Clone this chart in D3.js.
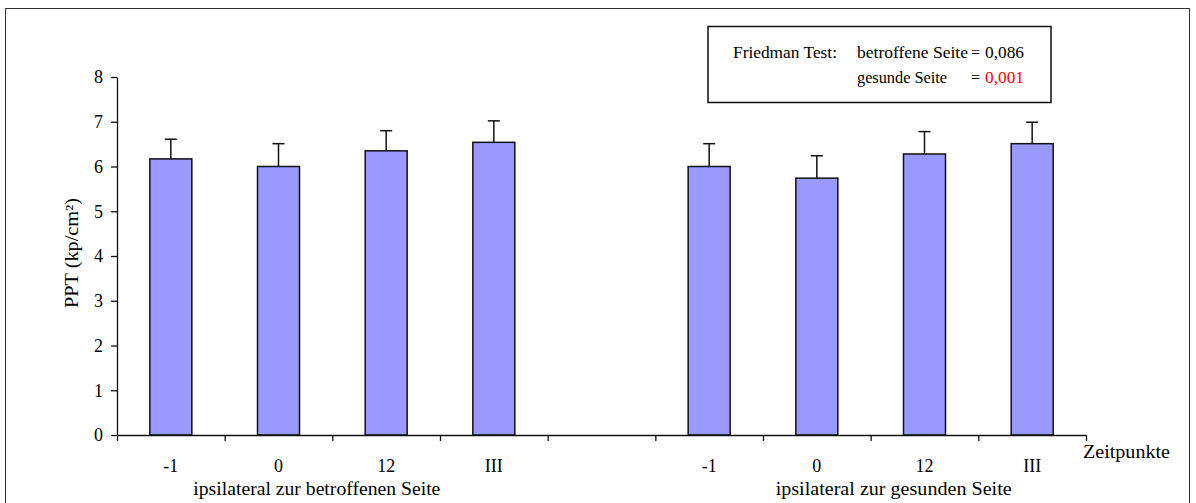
<!DOCTYPE html>
<html>
<head>
<meta charset="utf-8">
<script src="https://cdn.jsdelivr.net/npm/d3@7"></script>
<style>
  body { margin: 0; background: #fff; }
  svg { display: block; }
  text { font-family: "Liberation Serif", "Times New Roman", serif; fill: #000; }
</style>
</head>
<body>
<svg id="chart" width="1196" height="503"></svg>
<script>
// Pressure pain threshold per time point, two sides
const timepoints = ["-1", "0", "12", "III"];
const affectedMean = [6.17, 6.00, 6.35, 6.54];
const affectedSD   = [0.44, 0.51, 0.45, 0.48];
const healthyMean  = [6.00, 5.74, 6.28, 6.51];
const healthySD    = [0.51, 0.50, 0.50, 0.48];
const groupLabels  = ["ipsilateral zur betroffenen Seite", "ipsilateral zur gesunden Seite"];
const yTicks = [0, 1, 2, 3, 4, 5, 6, 7, 8];
const yTitle = "PPT (kp/cm²)";
const xTitle = "Zeitpunkte";
const testLabel = "Friedman Test:";
const testRows = [
  { name: "betroffene Seite", p: "0,086", significant: false },
  { name: "gesunde Seite", p: "0,001", significant: true }
];

// Slots along the x axis: four time points, an empty gap, four time points
const slots = [
  ...timepoints.map(t => "a:" + t),
  "gap",
  ...timepoints.map(t => "h:" + t)
];
const bars = [
  ...timepoints.map((t, i) => ({ key: "a:" + t, label: t, mean: affectedMean[i], sd: affectedSD[i] })),
  ...timepoints.map((t, i) => ({ key: "h:" + t, label: t, mean: healthyMean[i], sd: healthySD[i] }))
];

const svg = d3.select("#chart");

// outer frame
svg.append("rect")
  .attr("x", 5.5).attr("y", 8.5)
  .attr("width", 1184).attr("height", 520)
  .attr("fill", "none").attr("stroke", "#333").attr("stroke-width", 1);

const x = d3.scaleBand().domain(slots).range([117, 1086])
  .paddingInner(0.61).paddingOuter(0.305);
const y = d3.scaleLinear().domain([0, 8]).range([435, 77]);

// bars
svg.append("g").selectAll("rect").data(bars).join("rect")
  .attr("x", d => x(d.key))
  .attr("y", d => y(d.mean))
  .attr("width", x.bandwidth())
  .attr("height", d => y(0) - y(d.mean))
  .attr("fill", "#9999ff")
  .attr("stroke", "#111")
  .attr("stroke-width", 1.5);

// upper error bars
const err = svg.append("g").attr("stroke", "#111").attr("stroke-width", 1.5);
err.selectAll("line.v").data(bars).join("line").attr("class", "v")
  .attr("x1", d => x(d.key) + x.bandwidth() / 2)
  .attr("x2", d => x(d.key) + x.bandwidth() / 2)
  .attr("y1", d => y(d.mean))
  .attr("y2", d => y(d.mean + d.sd));
err.selectAll("line.c").data(bars).join("line").attr("class", "c")
  .attr("x1", d => x(d.key) + x.bandwidth() / 2 - 6)
  .attr("x2", d => x(d.key) + x.bandwidth() / 2 + 6)
  .attr("y1", d => y(d.mean + d.sd))
  .attr("y2", d => y(d.mean + d.sd));

// y axis
const yAxis = svg.append("g").attr("transform", "translate(117,0)")
  .call(d3.axisLeft(y).tickValues(yTicks).tickFormat(d3.format("d")).tickSize(6).tickSizeOuter(0).tickPadding(8));
yAxis.selectAll("text").attr("font-size", 18).attr("font-family", "Liberation Serif");
yAxis.selectAll("path, line").attr("stroke", "#111").attr("stroke-width", 1.3);

// x axis: ticks at slot boundaries
const edges = d3.range(slots.length + 1);
const xb = d3.scaleLinear().domain([0, slots.length]).range(x.range());
const xAxis = svg.append("g").attr("transform", "translate(0,435)")
  .call(d3.axisBottom(xb).tickValues(edges).tickFormat("").tickSize(6).tickSizeOuter(0));
xAxis.selectAll("path, line").attr("stroke", "#111").attr("stroke-width", 1.3);

// time point labels
svg.append("g").selectAll("text").data(bars).join("text")
  .attr("x", d => x(d.key) + x.bandwidth() / 2)
  .attr("y", 472)
  .attr("text-anchor", "middle")
  .attr("font-size", 18)
  .text(d => d.label);

// group labels
const groupCenters = [
  (x("a:" + timepoints[0]) + x("a:" + timepoints[3]) + x.bandwidth()) / 2 - 15.5,
  (x("h:" + timepoints[0]) + x("h:" + timepoints[3]) + x.bandwidth()) / 2 + 23
];
const groupWidths = [247, 236];
svg.append("g").selectAll("text").data(groupLabels).join("text")
  .attr("x", (d, i) => groupCenters[i])
  .attr("y", 495)
  .attr("text-anchor", "middle")
  .attr("font-size", 18)
  .attr("textLength", (d, i) => groupWidths[i])
  .attr("lengthAdjust", "spacingAndGlyphs")
  .text(d => d);

// axis titles
svg.append("text")
  .attr("x", 1083).attr("y", 458)
  .attr("font-size", 18.5)
  .attr("textLength", 87)
  .attr("lengthAdjust", "spacingAndGlyphs")
  .text(xTitle);
svg.append("text")
  .attr("transform", "translate(78,253) rotate(-90)")
  .attr("text-anchor", "middle")
  .attr("font-size", 18)
  .attr("textLength", 110)
  .attr("lengthAdjust", "spacingAndGlyphs")
  .text(yTitle);

// test result box
const box = svg.append("g");
box.append("rect")
  .attr("x", 708).attr("y", 26.5)
  .attr("width", 343).attr("height", 76)
  .attr("fill", "#fff").attr("stroke", "#111").attr("stroke-width", 1.5);
box.append("text").attr("x", 733).attr("y", 58).attr("font-size", 16)
  .attr("textLength", 104).attr("lengthAdjust", "spacingAndGlyphs").text(testLabel);
const nameWidths = [111, 90];
testRows.forEach((r, i) => {
  const by = 58 + i * 25;
  box.append("text").attr("x", 857).attr("y", by).attr("font-size", 16)
    .attr("textLength", nameWidths[i]).attr("lengthAdjust", "spacingAndGlyphs").text(r.name);
  box.append("text").attr("x", 971).attr("y", by).attr("font-size", 16).text("=");
  box.append("text").attr("x", 985).attr("y", by).attr("font-size", 16)
    .attr("textLength", 39).attr("lengthAdjust", "spacingAndGlyphs")
    .attr("fill", r.significant ? "#ff0000" : "#000")
    .style("fill", r.significant ? "#ff0000" : "#000").text(r.p);
});
</script>
</body>
</html>
